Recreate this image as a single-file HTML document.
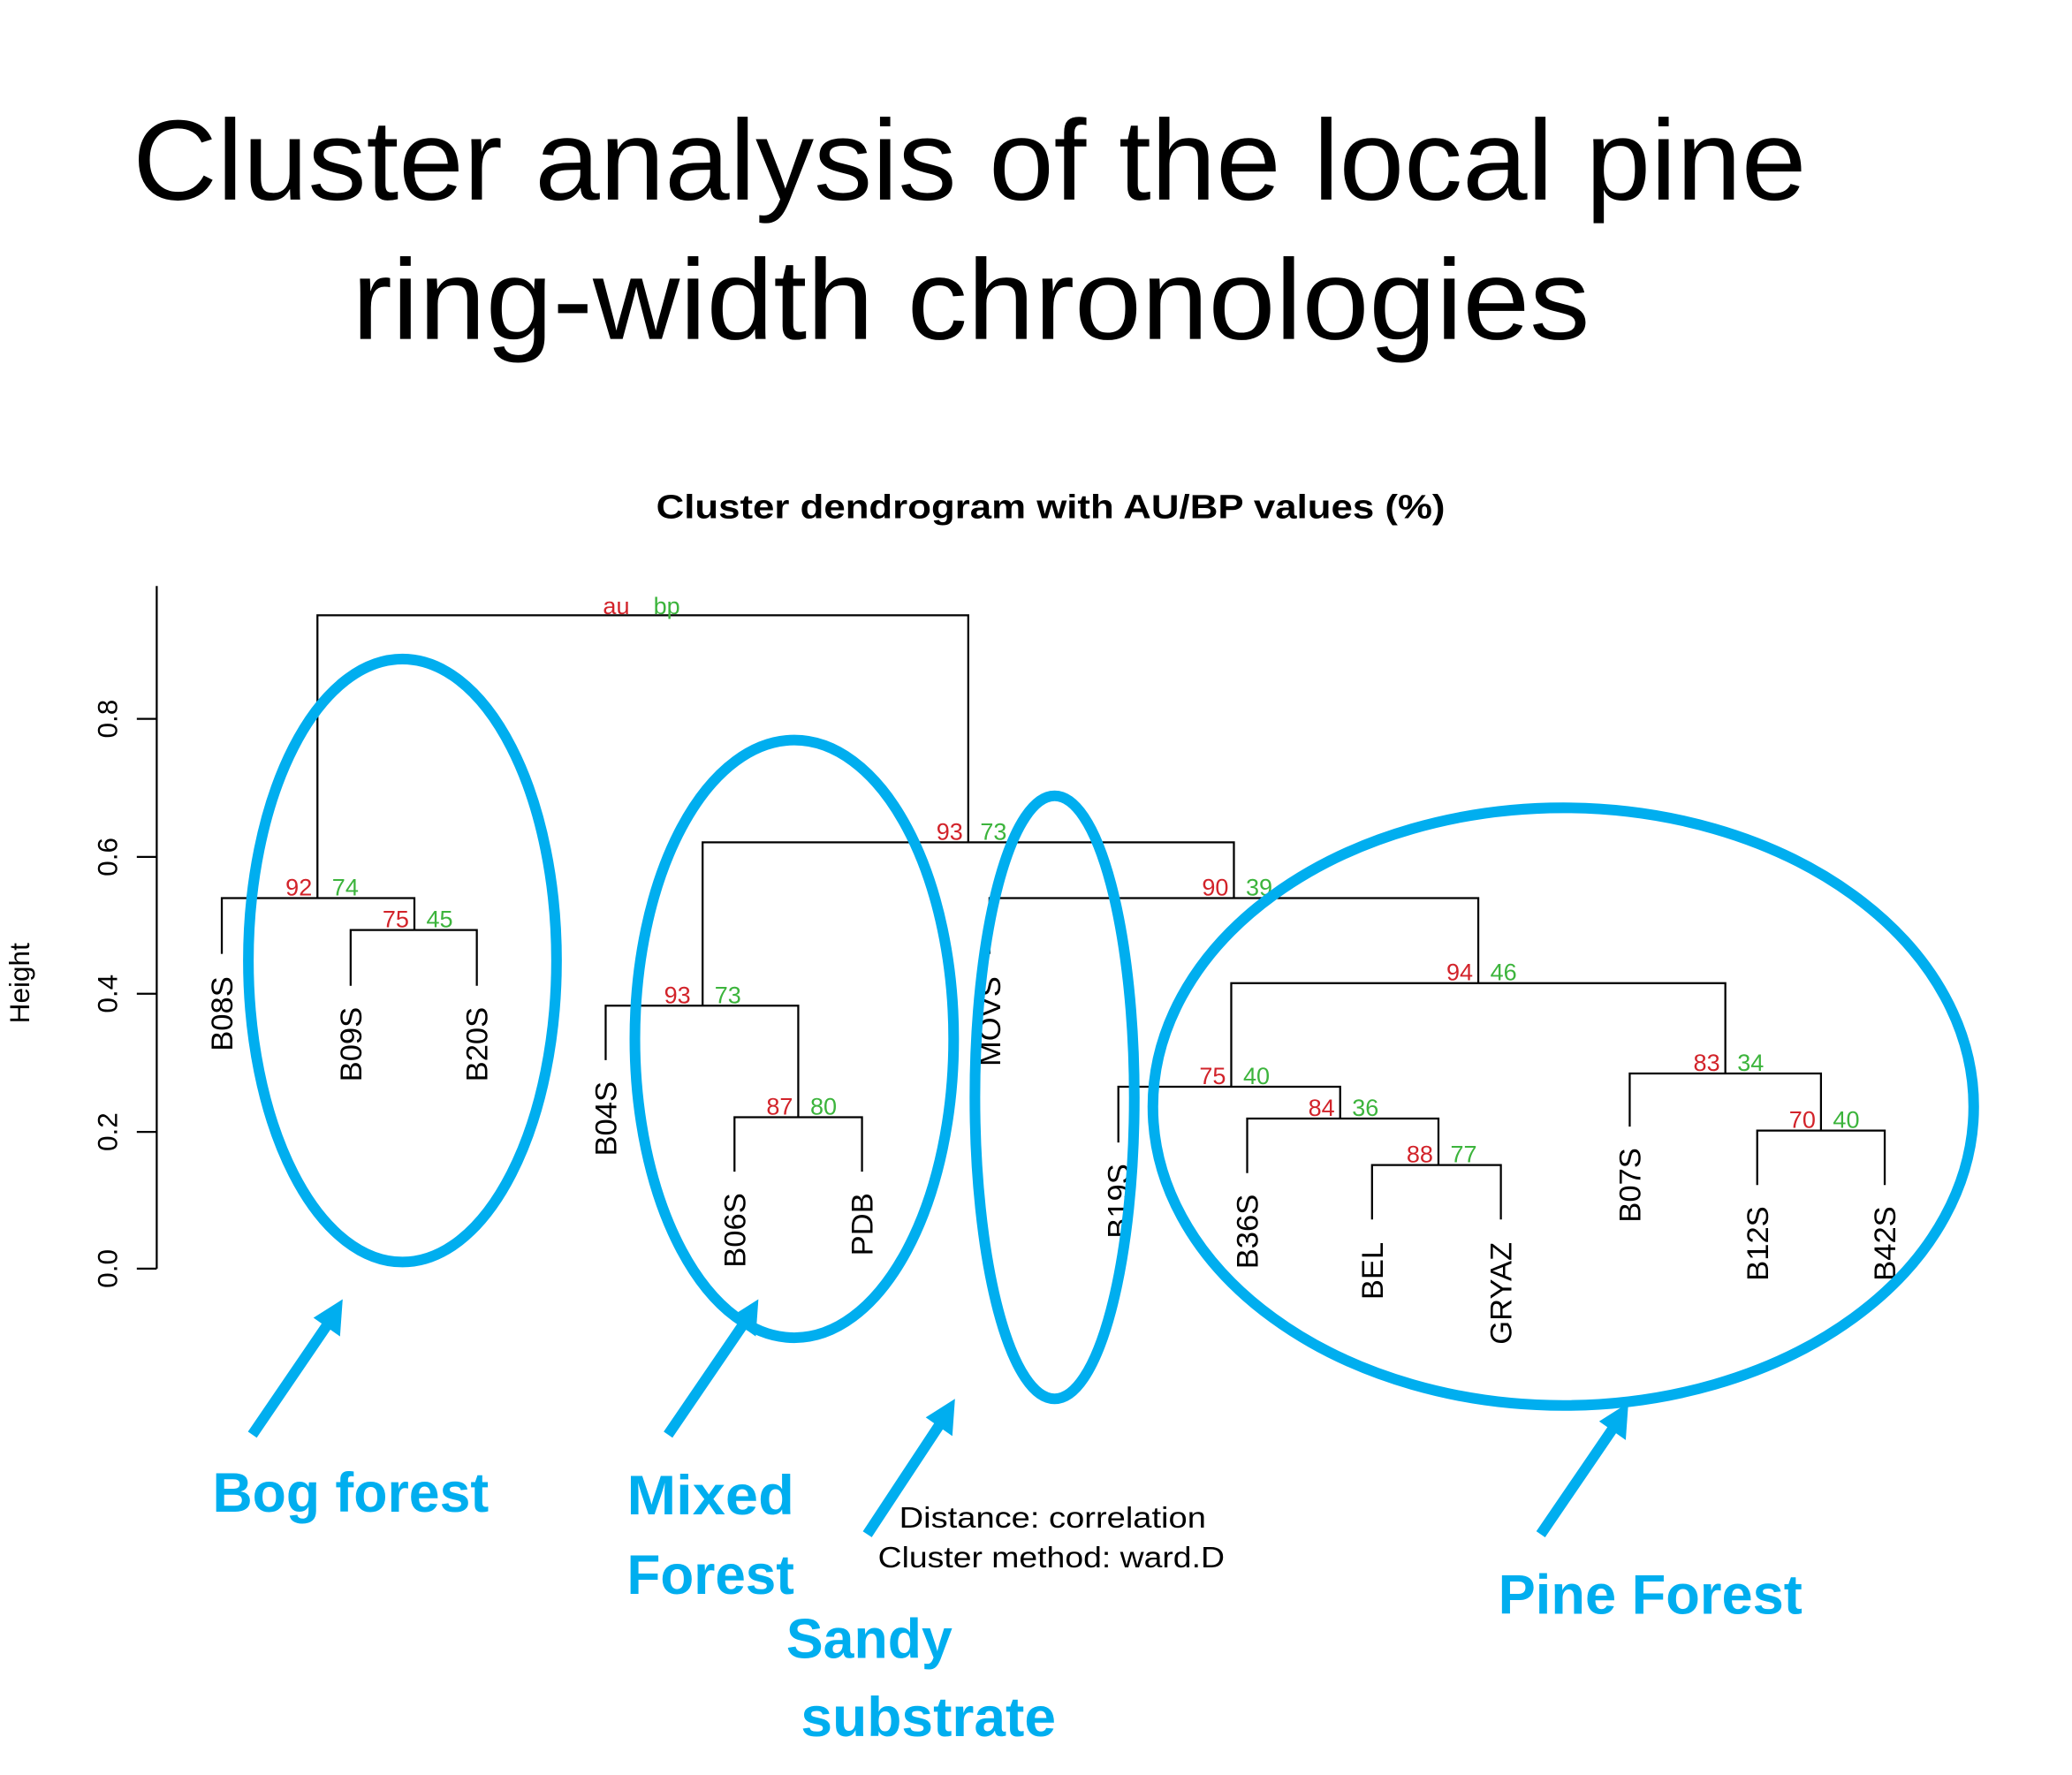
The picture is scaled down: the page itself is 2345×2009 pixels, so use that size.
<!DOCTYPE html>
<html><head><meta charset="utf-8"><style>
html,body{margin:0;padding:0;background:#fff;}
svg{display:block;}
</style></head><body>
<svg width="2345" height="2009" viewBox="0 0 1560 1336" xmlns="http://www.w3.org/2000/svg">
<rect width="1560" height="1336" fill="#fff"/>
<g font-family="Liberation Sans, sans-serif" fill="#000">
<text x="100" y="150" font-size="86" textLength="1260" lengthAdjust="spacingAndGlyphs">Cluster analysis of the local pine</text>
<text x="265" y="255" font-size="86" textLength="932" lengthAdjust="spacingAndGlyphs">ring-width chronologies</text>
<text x="494" y="390" font-size="25" font-weight="bold" textLength="594" lengthAdjust="spacingAndGlyphs">Cluster dendrogram with AU/BP values (%)</text>
</g>
<g stroke="#000" stroke-width="1.5" fill="none">
<path d="M118 441V955 M103 955H118 M103 852H118 M103 748H118 M103 645H118 M103 541H118"/>
<path d="M167 718V676H312V700 M239 676V463H729V634 M264 742V700H359V742"/>
<path d="M529 757V634H929V676 M456 798V757H601V841 M553 882V841H649V882"/>
<path d="M745 718V676H1113V740 M927 818V740H1299V808 M842 860V818H1009V842 M939 883V842H1083V877 M1033 918V877H1130V918"/>
<path d="M1227 848V808H1371V851 M1323 892V851H1419V892"/>
</g>
<g font-family="Liberation Sans, sans-serif" font-size="21" fill="#000">
<text transform="translate(88,955) rotate(-90)" text-anchor="middle">0.0</text>
<text transform="translate(88,852) rotate(-90)" text-anchor="middle">0.2</text>
<text transform="translate(88,748) rotate(-90)" text-anchor="middle">0.4</text>
<text transform="translate(88,645) rotate(-90)" text-anchor="middle">0.6</text>
<text transform="translate(88,541) rotate(-90)" text-anchor="middle">0.8</text>
<text transform="translate(22,740) rotate(-90)" text-anchor="middle">Height</text>
</g>
<g font-family="Liberation Sans, sans-serif" font-size="23" fill="#000" text-anchor="end">
<text transform="translate(175,735) rotate(-90)">B08S</text>
<text transform="translate(272,758) rotate(-90)">B09S</text>
<text transform="translate(367,758) rotate(-90)">B20S</text>
<text transform="translate(464,814) rotate(-90)">B04S</text>
<text transform="translate(561,898) rotate(-90)">B06S</text>
<text transform="translate(657,898) rotate(-90)">PDB</text>
<text transform="translate(753,735) rotate(-90)">MOVS</text>
<text transform="translate(850,876) rotate(-90)">B19S</text>
<text transform="translate(947,899) rotate(-90)">B36S</text>
<text transform="translate(1041,935) rotate(-90)">BEL</text>
<text transform="translate(1138,935) rotate(-90)">GRYAZ</text>
<text transform="translate(1235,864) rotate(-90)">B07S</text>
<text transform="translate(1331,908) rotate(-90)">B12S</text>
<text transform="translate(1427,908) rotate(-90)">B42S</text>
</g>
<g font-family="Liberation Sans, sans-serif" font-size="18">
<g fill="#d2232a" text-anchor="end">
<text x="474" y="462">au</text>
<text x="235" y="674">92</text><text x="308" y="698">75</text>
<text x="725" y="632">93</text><text x="520" y="755">93</text><text x="597" y="839">87</text>
<text x="925" y="674">90</text><text x="1109" y="738">94</text><text x="923" y="816">75</text>
<text x="1005" y="840">84</text><text x="1079" y="875">88</text><text x="1295" y="806">83</text><text x="1367" y="849">70</text>
</g>
<g fill="#3cb43c">
<text x="492" y="462">bp</text>
<text x="250" y="674">74</text><text x="321" y="698">45</text>
<text x="738" y="632">73</text><text x="538" y="755">73</text><text x="610" y="839">80</text>
<text x="938" y="674">39</text><text x="1122" y="738">46</text><text x="936" y="816">40</text>
<text x="1018" y="840">36</text><text x="1092" y="875">77</text><text x="1308" y="806">34</text><text x="1380" y="849">40</text>
</g>
</g>
<g font-family="Liberation Sans, sans-serif" font-size="22" fill="#000">
<text x="677" y="1150" textLength="231" lengthAdjust="spacingAndGlyphs">Distance:  correlation</text>
<text x="661" y="1180" textLength="261" lengthAdjust="spacingAndGlyphs">Cluster method: ward.D</text>
</g>
<g stroke="#00aeef" stroke-width="8" fill="none">
<ellipse cx="303" cy="723" rx="116" ry="227"/>
<ellipse cx="598" cy="782" rx="120" ry="225"/>
<ellipse cx="794" cy="826" rx="60" ry="227"/>
<ellipse cx="1177" cy="833" rx="309" ry="225"/>
<path d="M190 1080L250 992 M503 1080L563 992 M653 1155L711 1067 M1160 1155L1218 1070"/>
</g>
<g fill="#00aeef">
<polygon points="258,978 256,1006 236,992"/>
<polygon points="571,978 569,1006 549,992"/>
<polygon points="719,1053 717,1081 697,1067"/>
<polygon points="1226,1056 1224,1084 1204,1070"/>
</g>
<g font-family="Liberation Sans, sans-serif" font-size="42" font-weight="bold" fill="#00aeef">
<text x="160" y="1138" textLength="208" lengthAdjust="spacingAndGlyphs">Bog forest</text>
<text x="472" y="1140" textLength="126" lengthAdjust="spacingAndGlyphs">Mixed</text>
<text x="472" y="1200" textLength="126" lengthAdjust="spacingAndGlyphs">Forest</text>
<text x="592" y="1248" textLength="125" lengthAdjust="spacingAndGlyphs">Sandy</text>
<text x="603" y="1307" textLength="192" lengthAdjust="spacingAndGlyphs">substrate</text>
<text x="1128" y="1215" textLength="229" lengthAdjust="spacingAndGlyphs">Pine Forest</text>
</g>
</svg>
</body></html>
